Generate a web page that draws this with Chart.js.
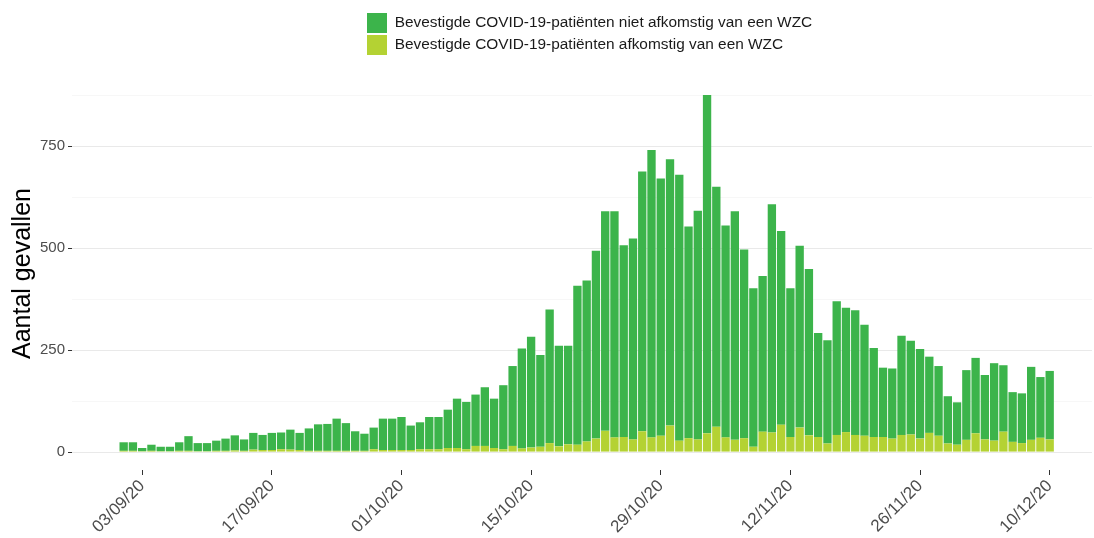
<!DOCTYPE html>
<html>
<head>
<meta charset="utf-8">
<script src="https://cdn.jsdelivr.net/npm/chart.js@4.4.1/dist/chart.umd.min.js"></script>
<style>
html,body{margin:0;padding:0;background:#ffffff;}
#wrap{width:1094px;height:538px;position:relative;}
</style>
</head>
<body>
<div id="wrap"><canvas id="c" width="1094" height="538"></canvas></div>
<script>
// ---- data ----
const dates = [
'01/09/20','02/09/20','03/09/20','04/09/20','05/09/20','06/09/20','07/09/20','08/09/20','09/09/20','10/09/20',
'11/09/20','12/09/20','13/09/20','14/09/20','15/09/20','16/09/20','17/09/20','18/09/20','19/09/20','20/09/20',
'21/09/20','22/09/20','23/09/20','24/09/20','25/09/20','26/09/20','27/09/20','28/09/20','29/09/20','30/09/20',
'01/10/20','02/10/20','03/10/20','04/10/20','05/10/20','06/10/20','07/10/20','08/10/20','09/10/20','10/10/20',
'11/10/20','12/10/20','13/10/20','14/10/20','15/10/20','16/10/20','17/10/20','18/10/20','19/10/20','20/10/20',
'21/10/20','22/10/20','23/10/20','24/10/20','25/10/20','26/10/20','27/10/20','28/10/20','29/10/20','30/10/20',
'31/10/20','01/11/20','02/11/20','03/11/20','04/11/20','05/11/20','06/11/20','07/11/20','08/11/20','09/11/20',
'10/11/20','11/11/20','12/11/20','13/11/20','14/11/20','15/11/20','16/11/20','17/11/20','18/11/20','19/11/20',
'20/11/20','21/11/20','22/11/20','23/11/20','24/11/20','25/11/20','26/11/20','27/11/20','28/11/20','29/11/20',
'30/11/20','01/12/20','02/12/20','03/12/20','04/12/20','05/12/20','06/12/20','07/12/20','08/12/20','09/12/20',
'10/12/20'
];
const nietWzc = [
21,21,8,15,11,11,21,36,20,20,
25,30,37,28,41,37,42,41,49,42,
55,65,66,79,68,48,42,53,77,77,
81,60,66,79,79,94,121,116,126,144,
121,157,196,245,272,225,328,247,242,390,
395,461,539,555,470,493,637,705,631,653,
652,519,561,830,589,520,561,463,389,382,
560,475,365,446,408,255,253,328,305,306,
272,218,170,172,243,230,220,187,171,116,
104,171,185,158,190,163,122,122,179,149,
168
];
const wzc = [
3,3,2,3,2,2,3,3,2,2,
3,3,4,3,6,5,5,7,6,5,
3,3,3,3,3,3,3,7,5,5,
5,5,7,7,7,10,10,7,15,15,
10,7,15,9,11,13,22,14,19,18,
26,33,52,36,37,31,51,36,40,65,
28,34,31,46,62,36,30,34,13,50,
48,67,37,60,41,37,21,42,49,42,
40,37,37,33,42,43,33,47,40,21,
18,30,46,31,28,50,25,22,30,35,
31
];
const seriesNames = [
'Bevestigde COVID-19-patiënten niet afkomstig van een WZC',
'Bevestigde COVID-19-patiënten afkomstig van een WZC'
];
const xTickLabels = ['03/09/20','17/09/20','01/10/20','15/10/20','29/10/20','12/11/20','26/11/20','10/12/20'];
const yTickValues = [0,125,250,375,500,625,750,875];
const yLabelledValues = [0,250,500,750];
const yTitle = 'Aantal gevallen';

// ---- style ----
const GREEN = '#3cb44b';
const LIME = '#b4d233';
const FONT = "'Liberation Sans', Arial, Helvetica, sans-serif";

const legendPlacer = {
  id: 'legendPlacer',
  beforeLayout(chart) {
    const lg = chart.legend;
    if (!lg || lg._patched) return;
    const fit = lg.fit.bind(lg);
    lg.fit = function () { fit(); this.height = 77; };
    lg._patched = true;
  },
  afterLayout(chart) {
    const lg = chart.legend;
    if (!lg) return;
    lg.left = 365; lg.width = 480; lg.right = lg.left + lg.width;
    lg.top = 11; lg.height = 50; lg.bottom = lg.top + lg.height;
  }
};

const isMajor = (c) => c.tick && yLabelledValues.includes(c.tick.value);

new Chart(document.getElementById('c'), {
  type: 'bar',
  data: {
    datasets: [
      {
        label: seriesNames[1],
        data: wzc.map((v, i) => ({x: i, y: v})),
        backgroundColor: LIME,
        borderWidth: 0,
        barPercentage: 0.9,
        categoryPercentage: 1
      },
      {
        label: seriesNames[0],
        data: nietWzc.map((v, i) => ({x: i, y: v})),
        backgroundColor: GREEN,
        borderWidth: 0,
        barPercentage: 0.9,
        categoryPercentage: 1
      }
    ]
  },
  options: {
    responsive: false,
    animation: false,
    devicePixelRatio: 1,
    layout: {padding: {top: 0, right: 2, bottom: 0, left: 0}},
    plugins: {
      tooltip: {enabled: false},
      legend: {
        position: 'top',
        align: 'start',
        reverse: true,
        labels: {
          boxWidth: 20,
          boxHeight: 20,
          padding: 2,
          color: '#1a1a1a',
          font: {family: FONT, size: 15.4}
        }
      }
    },
    scales: {
      x: {
        type: 'linear',
        stacked: true,
        min: -5.58,
        max: 104.57,
        offset: false,
        afterBuildTicks: (s) => { s.ticks = xTickLabels.map(l => ({value: dates.indexOf(l)})); },
        afterFit: (s) => { s.height = 68; },
        ticks: {
          autoSkip: false,
          maxRotation: 45,
          minRotation: 45,
          padding: 1,
          color: '#4d4d4d',
          font: {family: FONT, size: 17},
          callback: (v) => dates[v]
        },
        grid: {offset: false, drawOnChartArea: false, drawTicks: true, tickLength: 5, tickColor: '#333333', tickWidth: 1},
        border: {display: false}
      },
      y: {
        stacked: true,
        min: -44,
        max: 920,
        afterBuildTicks: (s) => { s.ticks = yTickValues.map(v => ({value: v})); },
        afterFit: (s) => { s.width = 72; },
        ticks: {
          padding: 3,
          color: '#4d4d4d',
          font: {family: FONT, size: 15},
          callback: (v) => yLabelledValues.includes(v) ? String(v) : ''
        },
        grid: {
          color: (c) => isMajor(c) ? '#e9e9e9' : '#f3f3f3',
          lineWidth: (c) => isMajor(c) ? 1 : 0.7,
          tickColor: (c) => isMajor(c) ? '#333333' : 'rgba(0,0,0,0)',
          tickLength: 4,
          tickWidth: 1
        },
        border: {display: false},
        title: {
          display: true,
          text: yTitle,
          color: '#000000',
          font: {family: FONT, size: 25},
          padding: {top: 8, bottom: 0}
        }
      }
    }
  },
  plugins: [legendPlacer]
});
</script>
</body>
</html>
